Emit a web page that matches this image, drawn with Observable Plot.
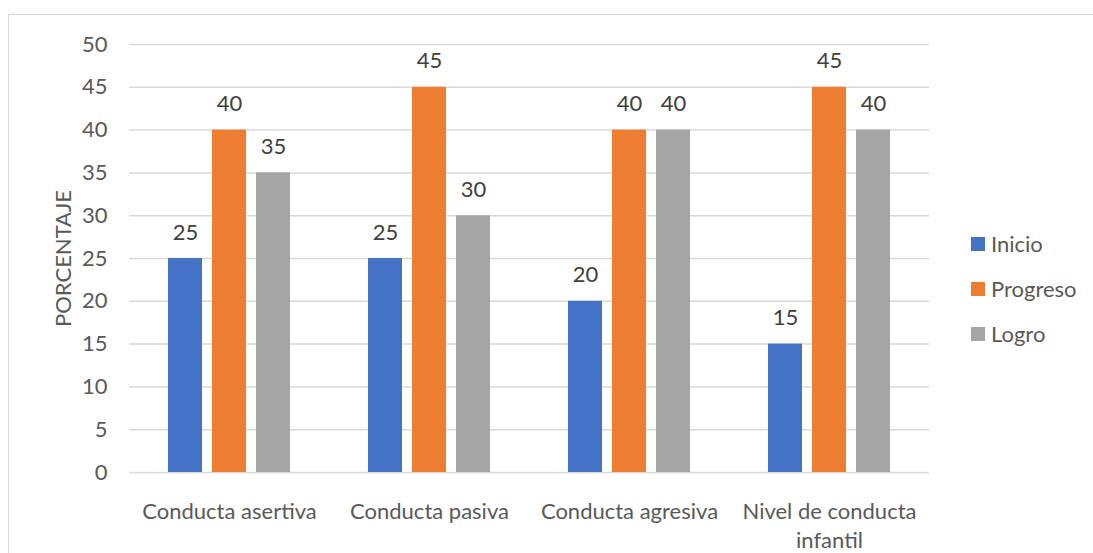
<!DOCTYPE html>
<html>
<head>
<meta charset="utf-8">
<script src="https://cdn.jsdelivr.net/npm/d3@7"></script>
<script src="https://cdn.jsdelivr.net/npm/@observablehq/plot@0.6"></script>
<style>
  html, body { margin: 0; padding: 0; background: #fff; overflow: hidden; }
  #wrap { position: relative; width: 1093px; height: 553px; font-family: Lato, "Open Sans", sans-serif; color: #595959; }
  #frame { position: absolute; left: 8px; top: 14px; width: 1200px; height: 700px; border: 1.5px solid #d9d9d9; box-sizing: border-box; }
  #chart { position: absolute; left: 0; top: 0; }
  #legend { position: absolute; left: 971px; top: 221px; font-size: 22px; }
  .item { display: flex; align-items: center; height: 45px; }
  .sw { width: 14px; height: 14px; margin-right: 6px; }
</style>
</head>
<body>
<div id="wrap">
  <div id="frame"></div>
  <div id="chart"></div>
  <div id="legend"></div>
</div>
<script>
const categories = ["Conducta asertiva", "Conducta pasiva", "Conducta agresiva", "Nivel de conducta infantil"];
const categoryLabels = ["Conducta asertiva", "Conducta pasiva", "Conducta agresiva", "Nivel de conducta\ninfantil"];
const series = ["Inicio", "Progreso", "Logro"];
const colors = ["#4472c4", "#ed7d31", "#a5a5a5"];
const inicio = [25, 25, 20, 15];
const progreso = [40, 45, 40, 45];
const logro = [35, 30, 40, 40];
const yTicks = [0, 5, 10, 15, 20, 25, 30, 35, 40, 45, 50];

const valuesBySeries = [inicio, progreso, logro];
const data = [];
categories.forEach((c, i) => {
  series.forEach((s, j) => {
    data.push({category: c, series: s, value: valuesBySeries[j][i]});
  });
});

const chart = Plot.plot({
  width: 1093,
  height: 553,
  marginLeft: 128,
  marginRight: 163,
  marginTop: 44,
  marginBottom: 81,
  style: {fontFamily: "Lato, 'Open Sans', sans-serif", fontSize: "22px", color: "#595959", background: "transparent"},
  fx: {domain: categories, padding: 0},
  x: {domain: series, paddingInner: 0.22, paddingOuter: 0.87, axis: null},
  y: {domain: [0, 50]},
  color: {domain: series, range: colors},
  marks: [
    Plot.gridY(yTicks, {stroke: "#d9d9d9", strokeOpacity: 1, strokeWidth: 1.5}),
    Plot.axisY(yTicks, {tickSize: 0, tickPadding: 22, label: "PORCENTAJE", labelAnchor: "center", labelArrow: "none", labelOffset: 74, fill: "#595959", fontSize: 22}),
    Plot.axisFx({anchor: "bottom", tickSize: 0, tickPadding: 25, label: null, lineHeight: 1.35,
      tickFormat: d => categoryLabels[categories.indexOf(d)], fill: "#595959", fontSize: 22}),
    Plot.barY(data, {fx: "category", x: "series", y: "value", fill: "series"}),
    Plot.text(data, {fx: "category", x: "series", y: "value", text: d => String(d.value), dy: -19, lineAnchor: "bottom", fill: "#404040", fontSize: 22})
  ]
});
document.getElementById("chart").appendChild(chart);

const legend = document.getElementById("legend");
series.forEach((s, i) => {
  const item = document.createElement("div");
  item.className = "item";
  const sw = document.createElement("span");
  sw.className = "sw";
  sw.style.background = colors[i];
  const label = document.createElement("span");
  label.textContent = s;
  item.appendChild(sw);
  item.appendChild(label);
  legend.appendChild(item);
});
</script>
</body>
</html>
